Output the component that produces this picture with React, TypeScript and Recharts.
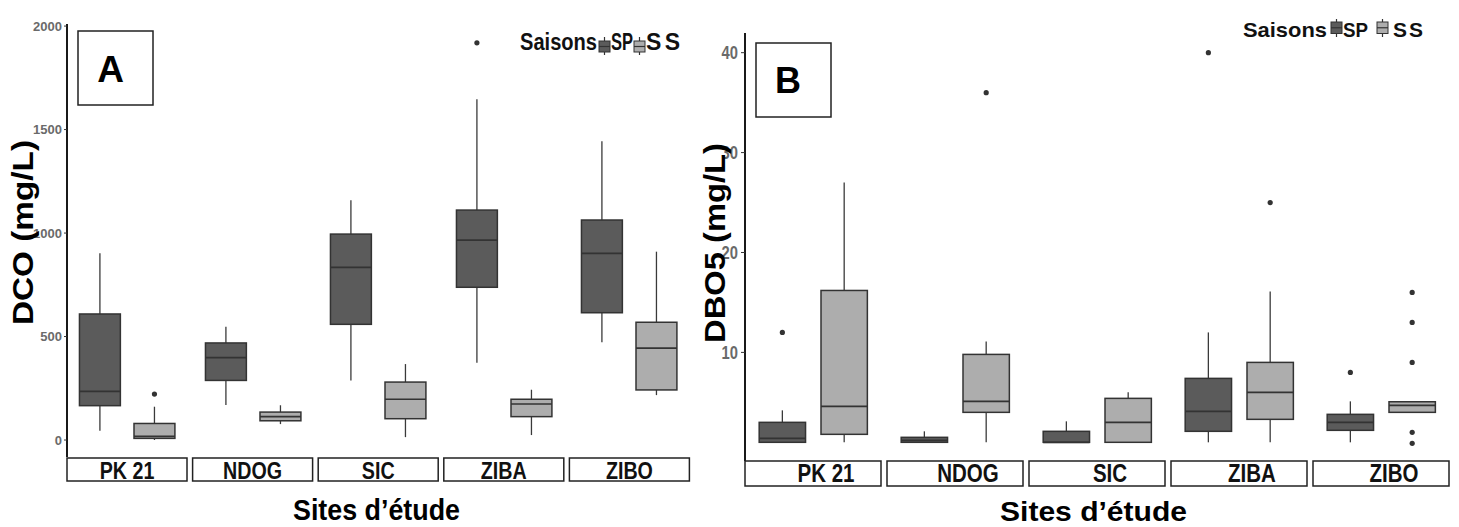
import { ComposedChart, Bar, XAxis, YAxis } from "recharts";

const SITES = ["PK 21", "NDOG", "SIC", "ZIBA", "ZIBO"];
const SEASONS = ["SP", "SS"];

// [min, q1, median, q3, max] per site
const DCO_SP = [
  [45, 166, 235, 609, 903],
  [169, 288, 398, 469, 547],
  [287, 559, 834, 995, 1159],
  [373, 738, 966, 1111, 1646],
  [473, 615, 902, 1063, 1444],
];
const DCO_SS = [
  [0, 8, 18, 80, 161],
  [77, 93, 113, 135, 168],
  [14, 103, 197, 280, 367],
  [24, 113, 174, 197, 243],
  [217, 242, 444, 569, 910],
];
const DCO_SP_OUT = [[], [], [], [1919], []];
const DCO_SS_OUT = [[222], [], [], [], []];

const DBO_SP = [
  [1, 1, 1.4, 3, 4.2],
  [1, 1, 1.2, 1.5, 2.1],
  [1, 1, 1, 2.1, 3.1],
  [1, 2.1, 4.1, 7.4, 12],
  [1, 2.2, 3, 3.8, 5.1],
];
const DBO_SS = [
  [1, 1.8, 4.6, 16.2, 27],
  [1, 4, 5.1, 9.8, 11.1],
  [1, 1, 3, 5.4, 6],
  [1, 3.3, 6, 9, 16.1],
  [4, 4, 4.7, 5.06, 5.06],
];
const DBO_SP_OUT = [[12], [], [], [40], [8]];
const DBO_SS_OUT = [[], [36], [], [25], [16, 13, 9, 2, 0.9]];

const DCO_TICKS = [0, 500, 1000, 1500, 2000];
const DBO_TICKS = [0, 10, 20, 30, 40];

const FILLS = ["#5b5b5b", "#adadad"];
const FONT = "'Liberation Sans', Arial, sans-serif";
const Y_W = 60;

const BoxShape = (props: any) => {
  const { x, y, width, height, payload } = props;
  const [mn, q1, md, q3, mx] = payload.stats;
  const top = Math.min(y, y + height);
  const h = Math.abs(height);
  const k = mx > mn ? h / (mx - mn) : 0;
  const py = (v: number) => top + (mx - v) * k;
  const cx = x + width / 2;
  return (
    <g>
      <line x1={cx} x2={cx} y1={py(mx)} y2={py(q3)} stroke="#3a3a3a" strokeWidth={1.3} />
      <line x1={cx} x2={cx} y1={py(q1)} y2={py(mn)} stroke="#3a3a3a" strokeWidth={1.3} />
      <rect x={x} y={py(q3)} width={width} height={Math.max(py(q1) - py(q3), 0.5)} fill={payload.fill} stroke="#333" strokeWidth={1.5} />
      <line x1={x} x2={x + width} y1={py(md)} y2={py(md)} stroke="#333" strokeWidth={1.7} />
      {payload.out.map((v: number, i: number) => (
        <circle key={i} cx={cx} cy={py(v)} r={2.6} fill="#333" />
      ))}
    </g>
  );
};

const makeTick = (size: number, narrow: boolean) => (p: any) => (
  <text
    x={p.x}
    y={p.y}
    dy={size * 0.36}
    textAnchor="end"
    fill="#6a6a6a"
    fontWeight={700}
    fontSize={size}
    fontFamily={FONT}
    transform={narrow ? `translate(${p.x} 0) scale(0.82 1) translate(${-p.x} 0)` : undefined}
  >
    {p.payload.value}
  </text>
);

type Panel = {
  x0: number;
  fw: number;
  gap: number;
  top: number;
  h: number;
  domain: [number, number];
  ticks: number[];
  sp: number[][];
  ss: number[][];
  spOut: number[][];
  ssOut: number[][];
  tickSize: number;
  tickMargin: number;
  tickFont: number;
  narrowTicks: boolean;
};

const PANEL_A: Panel = {
  x0: 67, fw: 120, gap: 5.6, top: 24, h: 433, domain: [-82, 2010], ticks: DCO_TICKS,
  sp: DCO_SP, ss: DCO_SS, spOut: DCO_SP_OUT, ssOut: DCO_SS_OUT,
  tickSize: 3, tickMargin: 2, tickFont: 13, narrowTicks: false,
};
const PANEL_B: Panel = {
  x0: 745, fw: 136, gap: 6, top: 33, h: 428, domain: [-0.87, 41.97], ticks: DBO_TICKS,
  sp: DBO_SP, ss: DBO_SS, spOut: DBO_SP_OUT, ssOut: DBO_SS_OUT,
  tickSize: 4, tickMargin: 3, tickFont: 18, narrowTicks: true,
};

function Facets({ p }: { p: Panel }) {
  const pad = p.fw * (0.6 / 2.2 - 0.25) * 2;
  return (
    <>
      {SITES.map((site, i) => {
        const rows = SEASONS.map((s, j) => ({
          season: s,
          stats: j === 0 ? p.sp[i] : p.ss[i],
          out: j === 0 ? p.spOut[i] : p.ssOut[i],
          fill: FILLS[j],
        }));
        const yw = i === 0 ? Y_W : 0;
        return (
          <div
            key={site}
            style={{ position: "absolute", left: p.x0 + i * (p.fw + p.gap) - yw, top: p.top - 10 }}
          >
            <ComposedChart
              width={p.fw + yw}
              height={p.h + 10}
              data={rows}
              margin={{ top: 10, right: 0, bottom: 0, left: 0 }}
            >
              <XAxis dataKey="season" type="category" hide padding={{ left: pad, right: pad }} />
              <YAxis
                type="number"
                domain={p.domain}
                allowDataOverflow
                ticks={p.ticks}
                hide={i !== 0}
                width={yw}
                axisLine={{ stroke: "#000", strokeWidth: 1.8 }}
                tickLine={{ stroke: "#333" }}
                tickSize={p.tickSize}
                tickMargin={p.tickMargin}
                tick={makeTick(p.tickFont, p.narrowTicks)}
              />
              <Bar
                dataKey={(d: any) => [d.stats[0], d.stats[4]]}
                barSize={(p.fw * 0.75) / 2.2}
                shape={BoxShape}
                isAnimationActive={false}
              />
            </ComposedChart>
          </div>
        );
      })}
    </>
  );
}

const NarrowText = ({ x, y, size, children, anchor = "middle" }: any) => (
  <text
    x={0}
    y={0}
    transform={`translate(${x} ${y}) scale(0.82 1)`}
    textAnchor={anchor}
    fontSize={size}
    fontWeight={700}
    fontFamily={FONT}
    fill="#111"
  >
    {children}
  </text>
);

const LegendKey = ({ x, y0, y1, b0, b1, fill }: any) => {
  const w = 11;
  const cx = x + w / 2;
  return (
    <g>
      <line x1={cx} x2={cx} y1={y0} y2={y1} stroke="#333" strokeWidth={1.2} />
      <rect x={x} y={b0} width={w} height={b1 - b0} fill={fill} stroke="#333" strokeWidth={1} />
      <line x1={x} x2={x + w} y1={(b0 + b1) / 2} y2={(b0 + b1) / 2} stroke="#333" strokeWidth={1.2} />
    </g>
  );
};

function Strips({ p, stripTop, stripH, size, base, shift }: any) {
  return (
    <>
      {SITES.map((site, i) => {
        const x = p.x0 + i * (p.fw + p.gap);
        return (
          <g key={site}>
            <rect x={x} y={stripTop} width={p.fw} height={stripH} fill="#fff" stroke="#222" strokeWidth={1.5} />
            <NarrowText x={x + p.fw / 2 + shift} y={stripTop + base} size={size}>
              {site}
            </NarrowText>
          </g>
        );
      })}
    </>
  );
}

export default function App() {
  return (
    <div style={{ position: "absolute", left: 0, top: 0, width: 1459, height: 527, background: "#fff", overflow: "hidden" }}>
      <Facets p={PANEL_A} />
      <Facets p={PANEL_B} />
      <svg width={1459} height={527} style={{ position: "absolute", left: 0, top: 0, pointerEvents: "none" }}>
        <Strips p={PANEL_A} stripTop={458} stripH={23} size={24} base={20.5} shift={0} />
        <Strips p={PANEL_B} stripTop={461} stripH={25} size={25} base={21} shift={13} />

        {/* panel tags */}
        <rect x={78} y={31} width={75} height={74} fill="#fff" stroke="#222" strokeWidth={1.5} />
        <text x={110.5} y={82} textAnchor="middle" fontSize={37} fontWeight={700} fontFamily={FONT} fill="#000">A</text>
        <rect x={756} y={43} width={75} height={74} fill="#fff" stroke="#222" strokeWidth={1.5} />
        <text x={788} y={93} textAnchor="middle" fontSize={36} fontWeight={700} fontFamily={FONT} fill="#000">B</text>

        {/* axis titles */}
        <text transform="translate(33 232.5) rotate(-90)" textAnchor="middle" fontSize={29} fontWeight={700} fontFamily={FONT} textLength={185} lengthAdjust="spacingAndGlyphs" fill="#000">DCO (mg/L)</text>
        <text transform="translate(725 243) rotate(-90)" textAnchor="middle" fontSize={30} fontWeight={700} fontFamily={FONT} textLength={200} lengthAdjust="spacingAndGlyphs" fill="#000">DBO5 (mg/L)</text>
        <text x={293} y={520} fontSize={30} fontWeight={700} fontFamily={FONT} textLength={167} lengthAdjust="spacingAndGlyphs" fill="#000">Sites d’étude</text>
        <text x={1000} y={521} fontSize={28} fontWeight={700} fontFamily={FONT} textLength={187} lengthAdjust="spacingAndGlyphs" fill="#000">Sites d’étude</text>

        {/* legend A */}
        <text x={520} y={50} fontSize={23} fontWeight={700} fontFamily={FONT} textLength={77} lengthAdjust="spacingAndGlyphs" fill="#111">Saisons</text>
        <LegendKey x={599} y0={37} y1={55} b0={41} b1={52} fill={FILLS[0]} />
        <text x={611} y={50} fontSize={23} fontWeight={700} fontFamily={FONT} textLength={22} lengthAdjust="spacingAndGlyphs" fill="#111">SP</text>
        <LegendKey x={634} y0={37} y1={55} b0={41} b1={52} fill={FILLS[1]} />
        <text x={646} y={50} fontSize={23} fontWeight={700} fontFamily={FONT} textLength={34} lengthAdjust="spacing" fill="#111">SS</text>

        {/* legend B */}
        <text x={1243} y={36.5} fontSize={21} fontWeight={700} fontFamily={FONT} textLength={84} lengthAdjust="spacingAndGlyphs" fill="#111">Saisons</text>
        <LegendKey x={1331} y0={19} y1={37} b0={22} b1={33.5} fill={FILLS[0]} />
        <text x={1343} y={36.5} fontSize={21} fontWeight={700} fontFamily={FONT} textLength={25} lengthAdjust="spacingAndGlyphs" fill="#111">SP</text>
        <LegendKey x={1377} y0={19} y1={37} b0={22} b1={33.5} fill={FILLS[1]} />
        <text x={1393} y={36.5} fontSize={21} fontWeight={700} fontFamily={FONT} textLength={30} lengthAdjust="spacing" fill="#111">SS</text>
      </svg>
    </div>
  );
}
